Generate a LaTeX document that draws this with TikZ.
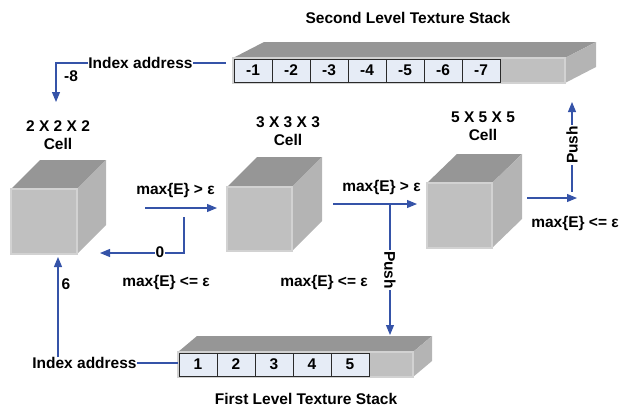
\documentclass[tikz,border=0pt]{standalone}
\usepackage{fontspec}
\setmainfont{Liberation Sans}
\usetikzlibrary{arrows.meta}
\definecolor{arrblue}{HTML}{3553A8}
\definecolor{frontgray}{HTML}{C0C0C0}
\definecolor{topgray}{HTML}{969696}
\definecolor{sidegray}{HTML}{B4B4B4}
\definecolor{edgegray}{HTML}{D2D2D2}
\definecolor{cellblue}{HTML}{E6ECF6}
\definecolor{celledge}{HTML}{2A2A2A}
\begin{document}
\begin{tikzpicture}[x=1pt,y=-1pt,
  lbl/.style={font=\fontsize{15.5}{17}\selectfont\bfseries, inner sep=0pt, text=black},
  arr/.style={draw=arrblue, line width=1.1pt, -{Triangle[length=10pt,width=8pt]}},
  ln/.style={draw=arrblue, line width=1.1pt},
  frontface/.style={fill=frontgray, draw=edgegray, line width=1.2pt, outer sep=0pt, inner sep=0pt},
  topface/.style={fill=topgray},
  sideface/.style={fill=sidegray},
  cellbox/.style={fill=cellblue, draw=celledge, line width=0.8pt, minimum width=38pt, minimum height=23pt, outer sep=0pt, inner sep=0pt, font=\fontsize{15.5}{17}\selectfont\bfseries},
  onlinelbl/.style={lbl, fill=white, inner sep=1pt}
]
\useasboundingbox (0,0) rectangle (630,407);

% ---------- cubes ----------
\node[frontface, minimum width=66pt, minimum height=65pt] (c1) at (44,221.5) {};
\fill[topface] (c1.north west) -- ([shift={(29,-29)}]c1.north west) -- ([shift={(29,-29)}]c1.north east) -- (c1.north east) -- cycle;
\fill[sideface] (c1.north east) -- ([shift={(29,-29)}]c1.north east) -- ([shift={(29,-29)}]c1.south east) -- (c1.south east) -- cycle;
\node[frontface, minimum width=66pt, minimum height=65pt] at (c1) {};

\node[frontface, minimum width=65pt, minimum height=64pt] (c2) at (259.5,219) {};
\fill[topface] (c2.north west) -- ([shift={(30,-30)}]c2.north west) -- ([shift={(30,-30)}]c2.north east) -- (c2.north east) -- cycle;
\fill[sideface] (c2.north east) -- ([shift={(30,-30)}]c2.north east) -- ([shift={(30,-30)}]c2.south east) -- (c2.south east) -- cycle;
\node[frontface, minimum width=65pt, minimum height=64pt] at (c2) {};

\node[frontface, minimum width=65pt, minimum height=65pt] (c3) at (459.5,215.5) {};
\fill[topface] (c3.north west) -- ([shift={(30,-29)}]c3.north west) -- ([shift={(30,-29)}]c3.north east) -- (c3.north east) -- cycle;
\fill[sideface] (c3.north east) -- ([shift={(30,-29)}]c3.north east) -- ([shift={(30,-29)}]c3.south east) -- (c3.south east) -- cycle;
\node[frontface, minimum width=65pt, minimum height=65pt] at (c3) {};

\node[lbl] (l1a) at (58,126) {2 X 2 X 2};
\node[lbl] (l1b) at (58,144) {Cell};
\node[lbl] (l2a) at (288,122) {3 X 3 X 3};
\node[lbl] (l2b) at (288,140) {Cell};
\node[lbl] (l3a) at (483,117) {5 X 5 X 5};
\node[lbl] (l3b) at (483,135) {Cell};

% ---------- second level stack ----------
\node[frontface, minimum width=332pt, minimum height=25pt] (s2) at (399,70.5) {};
\fill[topface] (s2.north west) -- ([shift={(31,-16)}]s2.north west) -- ([shift={(31,-16)}]s2.north east) -- (s2.north east) -- cycle;
\fill[sideface] (s2.north east) -- ([shift={(31,-16)}]s2.north east) -- ([shift={(31,-16)}]s2.south east) -- (s2.south east) -- cycle;
\node[frontface, minimum width=332pt, minimum height=25pt] at (s2) {};
\node[cellbox] (m1) at (253,70.5) {-1};
\node[cellbox] (m2) at (291,70.5) {-2};
\node[cellbox] (m3) at (329,70.5) {-3};
\node[cellbox] (m4) at (367,70.5) {-4};
\node[cellbox] (m5) at (405,70.5) {-5};
\node[cellbox] (m6) at (443,70.5) {-6};
\node[cellbox] (m7) at (481,70.5) {-7};
\node[lbl] (t2) at (408,18) {Second Level Texture Stack};

% ---------- first level stack ----------
\node[frontface, minimum width=235pt, minimum height=25pt] (s1) at (295.5,364.5) {};
\fill[topface] (s1.north west) -- ([shift={(19,-16)}]s1.north west) -- ([shift={(19,-16)}]s1.north east) -- (s1.north east) -- cycle;
\fill[sideface] (s1.north east) -- ([shift={(19,-16)}]s1.north east) -- ([shift={(19,-16)}]s1.south east) -- (s1.south east) -- cycle;
\node[frontface, minimum width=235pt, minimum height=25pt] at (s1) {};
\node[cellbox] (p1) at (198,364.5) {1};
\node[cellbox] (p2) at (236,364.5) {2};
\node[cellbox] (p3) at (274,364.5) {3};
\node[cellbox] (p4) at (312,364.5) {4};
\node[cellbox] (p5) at (350,364.5) {5};
\node[lbl] (t1) at (306,398.5) {First Level Texture Stack};

% ---------- index address (top) ----------
\node[lbl] (idx2) at (140.5,63) {Index address};
\draw[ln, shorten >=7pt] (idx2.east) -- (idx2.east -| s2.west);
\coordinate (tip8) at (56,102);
\draw[arr] (idx2.west) -| (tip8);
\node[lbl] (n8) at (71,76) {-8};

% ---------- index address (bottom) ----------
\node[lbl] (idx1) at (84.5,363) {Index address};
\draw[ln] (idx1.east) -- (idx1.east -| s1.west);
\coordinate (tip6) at (58,257);
\draw[arr] (idx1.north -| tip6) -- (tip6);
\node[lbl] (n6) at (66,284) {6};

% ---------- cube 1 <-> cube 2 ----------
\coordinate (a1s) at (145,208);
\coordinate (a1e) at (217,208);
\draw[arr] (a1s) -- (a1e);
\node[lbl] (g1) at (175.5,190) {max\{E\} > ε};
\coordinate (r1s) at (184,217);
\coordinate (r1c) at (184,253);
\coordinate (r1e) at (100,253);
\draw[arr] (r1s) -- (r1c) -- (r1e);
\node[onlinelbl] (z0) at (160,252) {0};
\node[lbl] (le1) at (166,282) {max\{E\} <= ε};

% ---------- cube 2 -> cube 3 ----------
\coordinate (a2s) at (333,204);
\coordinate (a2e) at (417,204);
\draw[arr] (a2s) -- (a2e);
\node[lbl] (g2) at (381.5,187) {max\{E\} > ε};
\coordinate (pds) at (390,204);
\coordinate (pde) at (390,335);
\draw[arr] (pds) -- (pde);
\node[onlinelbl, rotate=-90] (push1) at (390,270) {Push};
\node[lbl] (le2) at (324,282) {max\{E\} <= ε};

% ---------- cube 3 -> push up ----------
\coordinate (a3s) at (527,198);
\coordinate (a3e) at (577,198);
\draw[arr] (a3s) -- (a3e);
\coordinate (pus) at (572,192);
\coordinate (pue) at (572,102);
\draw[arr] (pus) -- (pue);
\node[onlinelbl, rotate=90] (push2) at (572,145) {Push};
\node[lbl] (le3) at (575,223) {max\{E\} <= ε};
\end{tikzpicture}
\end{document}
